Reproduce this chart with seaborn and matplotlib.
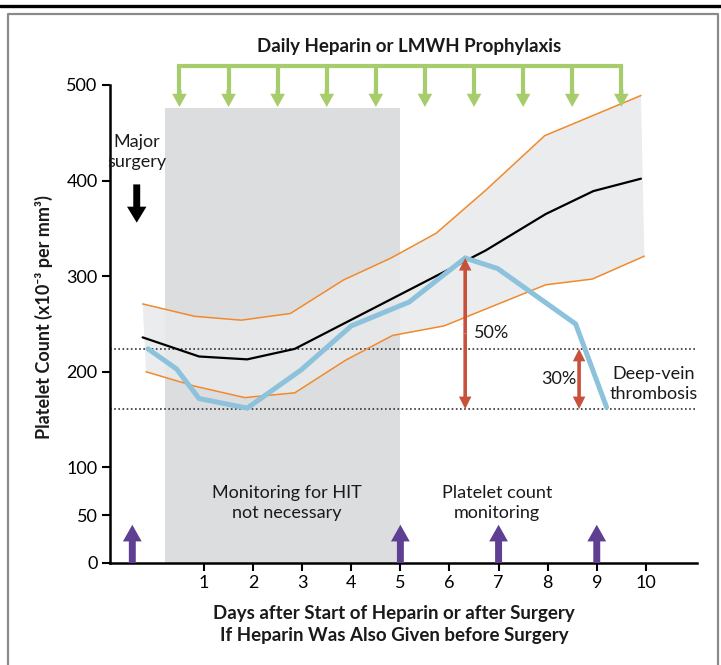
import numpy as np
import pandas as pd
import seaborn as sns
import matplotlib.pyplot as plt
from matplotlib.patches import Rectangle, FancyArrowPatch
from matplotlib.lines import Line2D

sns.set_style('ticks')
plt.rcParams['font.family'] = ['Lato', 'DejaVu Sans']
plt.rcParams['text.color'] = '#1a1a1a'
plt.rcParams['axes.labelcolor'] = '#1a1a1a'
plt.rcParams['xtick.color'] = 'black'
plt.rcParams['ytick.color'] = 'black'

# values
mean_days = [-0.25, 0.9, 1.88, 2.85, 6.74, 7.96, 8.93, 9.9]
mean_vals = [236, 216, 213, 224, 327, 365, 389, 402]

upper_days = [-0.25, 0.81, 1.76, 2.76, 3.84, 4.81, 5.73, 6.74, 7.94, 9.9]
upper_vals = [271, 258, 254, 261, 296, 319, 345, 390, 447, 489]

lower_days = [-0.18, 0.81, 1.83, 2.85, 3.88, 4.84, 5.89, 7.96, 8.91, 9.97]
lower_vals = [200, 185, 173, 178, 212, 238, 248, 291, 297, 321]

patient_days = [-0.14, 0.44, 0.9, 1.88, 2.98, 4.0, 5.18, 6.32, 6.98, 8.57, 9.2]
patient_vals = [224, 203, 172, 162, 202, 248, 273, 319, 308, 250, 163]

thresholds = [224, 161]          # 30% and 50% fall from the peak
drop_days = [6.32, 8.64]         # red arrows
drop_tops = [319, 224]
heparin_days = [0.5, 1.5, 2.5, 3.5, 4.5, 5.5, 6.5, 7.5, 8.5, 9.5]
monitor_days = [-0.46, 5, 7, 9]
x_ticks = [1, 2, 3, 4, 5, 6, 7, 8, 9, 10]
y_ticks = [0, 50, 100, 200, 300, 400, 500]

BLUE = '#8cc2db'
ORANGE = '#f08a2c'
RED = '#c8513b'
PURPLE = '#5f3f92'
GREEN = '#a7cc6c'
FS = 13

fig = plt.figure(figsize=(7.21, 6.65), dpi=100)
ax = fig.add_axes([0.1526, 0.1534, 0.814, 0.7188])
ax.set_xlim(-0.914, 11.04)
ax.set_ylim(0, 500)

# shaded areas
ax.add_patch(Rectangle((0.2, 0), 4.8, 476, color='#dcdddf', lw=0, zorder=0.5))
band_x = upper_days + lower_days[::-1]
band_y = upper_vals + lower_vals[::-1]
ax.fill(band_x, band_y, color='#e8e9ea', alpha=0.85, lw=0, zorder=1)

for t in thresholds:
    ax.axhline(t, color='#333333', lw=1.2, ls=(0, (1, 1.5)), zorder=2)

sns.lineplot(x=upper_days, y=upper_vals, ax=ax, color=ORANGE, lw=1.1, estimator=None, sort=False, zorder=3)
sns.lineplot(x=lower_days, y=lower_vals, ax=ax, color=ORANGE, lw=1.1, estimator=None, sort=False, zorder=3)
sns.lineplot(x=mean_days, y=mean_vals, ax=ax, color='black', lw=1.6, estimator=None, sort=False, zorder=4)
sns.lineplot(x=patient_days, y=patient_vals, ax=ax, color=BLUE, lw=3.6, estimator=None, sort=False, zorder=5,
             solid_joinstyle='miter')


def arrow(x, y0, y1, color, tail, head_w, head_l, z=6):
    a = FancyArrowPatch((x, y0), (x, y1),
                        arrowstyle=f'simple,head_length={head_l},head_width={head_w},tail_width={tail}',
                        mutation_scale=1, color=color, lw=0, shrinkA=0, shrinkB=0,
                        clip_on=False, zorder=z)
    ax.add_patch(a)


# red double arrows
for d, top in zip(drop_days, drop_tops):
    mid = (top + thresholds[1]) / 2
    arrow(d, mid, top, RED, 2.6, 9, 9)
    arrow(d, mid, thresholds[1], RED, 2.6, 9, 9)

# purple monitoring arrows
for d in monitor_days:
    arrow(d, 0, 40, PURPLE, 5, 13.5, 12)

# major surgery arrow
arrow(-0.37, 396, 356, 'black', 5, 14, 11.5)

# heparin arrows
ax.plot([heparin_days[0], heparin_days[-1]], [520, 520], color=GREEN, lw=3,
        solid_capstyle='projecting', clip_on=False, zorder=6)
for d in heparin_days:
    ax.plot([d, d], [520, 490], color=GREEN, lw=3, clip_on=False, zorder=6)
    arrow(d, 495, 477, GREEN, 3, 10.5, 9.5)

# texts
ax.text(5.17, 540, 'Daily Heparin or LMWH Prophylaxis', ha='center', va='center',
        fontsize=FS + 0.5, fontweight='bold', clip_on=False)
ax.text(-0.37, 430, 'Major\nsurgery', ha='center', va='center', fontsize=FS, linespacing=1.3)
ax.text(2.69, 63, 'Monitoring for HIT\nnot necessary', ha='center', va='center', fontsize=FS,
        linespacing=1.3)
ax.text(6.97, 63, 'Platelet count\nmonitoring', ha='center', va='center', fontsize=FS,
        linespacing=1.3)
ax.text(6.86, 241, '50%', ha='center', va='center', fontsize=FS)
ax.text(8.22, 192, '30%', ha='center', va='center', fontsize=FS)
ax.text(10.16, 187, 'Deep-vein\nthrombosis', ha='center', va='center', fontsize=FS,
        linespacing=1.3)

# axes styling
ax.set_xticks(x_ticks)
ax.set_yticks(y_ticks)
ax.tick_params(axis='both', labelsize=FS, length=6, width=1.5, pad=3)
sns.despine(ax=ax)
ax.spines['left'].set_linewidth(1.8)
ax.spines['bottom'].set_linewidth(1.8)
ax.spines['left'].set_color('black')
ax.spines['bottom'].set_color('black')

ax.set_xlabel('Days after Start of Heparin or after Surgery\nIf Heparin Was Also Given before Surgery',
              fontsize=FS + 0.5, fontweight='bold', linespacing=1.35)
ax.xaxis.set_label_coords(0.484, -0.088)
ax.xaxis.label.set_va('top')
ax.set_ylabel('Platelet Count (x10\u207b\u00b3 per mm\u00b3)', fontsize=FS, fontweight='bold')
ax.yaxis.set_label_coords(-0.097, 0.515)

# frame around the figure
fig.add_artist(Line2D([0, 1], [0.991, 0.991], transform=fig.transFigure, color='black', lw=2.4))
fig.add_artist(Line2D([0.011, 0.011, 0.996, 0.996], [-0.01, 0.979, 0.979, -0.01],
                      transform=fig.transFigure, color='#8a8a8a', lw=1.6))

fig.savefig('out.png', dpi=100)
